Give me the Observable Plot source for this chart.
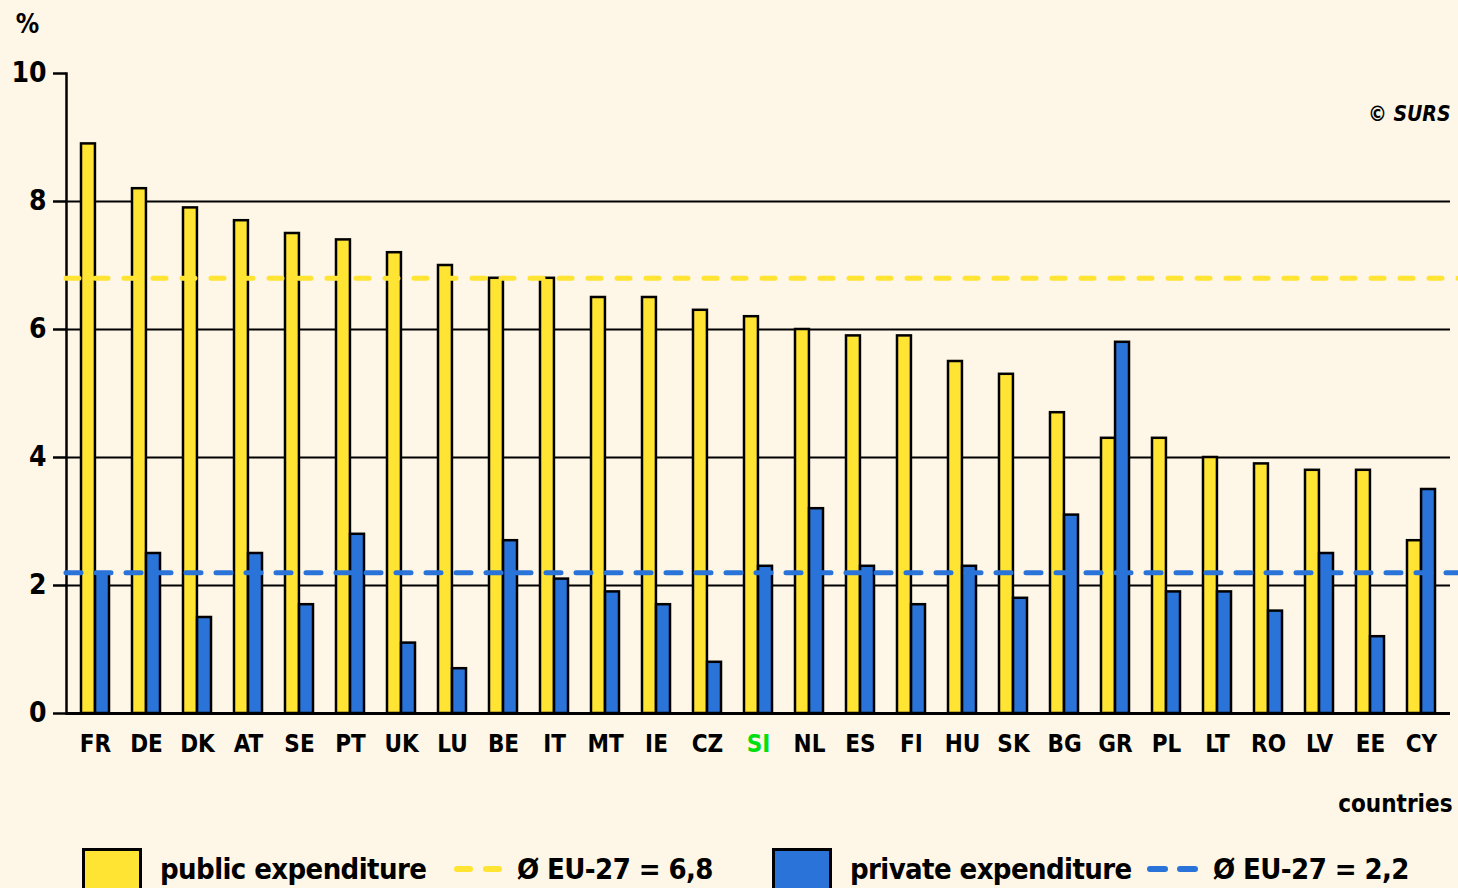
<!DOCTYPE html>
<html>
<head>
<meta charset="utf-8">
<script src="https://cdn.jsdelivr.net/npm/d3@7"></script>
<script src="https://cdn.jsdelivr.net/npm/@observablehq/plot@0.6"></script>
<style>
  html, body { margin: 0; padding: 0; background: #fef6e6; }
  body { width: 1458px; height: 888px; overflow: hidden; font-family: "DejaVu Sans Condensed", "DejaVu Sans", sans-serif; }
  #chart svg { display: block; }
  .legend { position: relative; height: 53px; overflow: hidden; }
  .legend .sw { position: absolute; top: 13px; width: 60px; height: 48px; box-sizing: border-box; border: 3px solid #000; }
  .legend .tx { position: absolute; top: 19px; font-size: 29px; font-weight: bold; line-height: 30px; color: #000; white-space: nowrap; letter-spacing: -0.6px; }
  .legend svg { position: absolute; top: 27px; }
</style>
</head>
<body>
<div id="chart"></div>
<div class="legend" id="legend"></div>
<script>
const countries = ["FR","DE","DK","AT","SE","PT","UK","LU","BE","IT","MT","IE","CZ","SI","NL","ES","FI","HU","SK","BG","GR","PL","LT","RO","LV","EE","CY"];
const publicExp = [8.9,8.2,7.9,7.7,7.5,7.4,7.2,7.0,6.8,6.8,6.5,6.5,6.3,6.2,6.0,5.9,5.9,5.5,5.3,4.7,4.3,4.3,4.0,3.9,3.8,3.8,2.7];
const privateExp = [2.2,2.5,1.5,2.5,1.7,2.8,1.1,0.7,2.7,2.1,1.9,1.7,0.8,2.3,3.2,2.3,1.7,2.3,1.8,3.1,5.8,1.9,1.9,1.6,2.5,1.2,3.5];
const yTicks = [0,2,4,6,8,10];
const gridValues = [2,4,6,8];
const avgPublic = 6.8;
const avgPrivate = 2.2;
const highlight = "SI";
const legendItems = [
  {label: "public expenditure", avgLabel: "Ø EU-27 = 6,8", color: "#ffe433"},
  {label: "private expenditure", avgLabel: "Ø EU-27 = 2,2", color: "#2a74d9"}
];

const YELLOW = "#ffe433", BLUE = "#2a74d9";
const rows = countries.map((c, i) => ({country: c, pub: publicExp[i], priv: privateExp[i]}));

const width = 1458, height = 835;
const marginLeft = 66, marginRight = 8, marginTop = 73, marginBottom = 122;
const pIn = 0.45, pOut = 0.26;
const step = (width - marginLeft - marginRight) / (countries.length - pIn + 2 * pOut);
const half = step * (1 - pIn) / 2;

const font = {fontFamily: "DejaVu Sans Condensed, DejaVu Sans, sans-serif", fontWeight: "bold"};

const chart = Plot.plot({
  width, height, marginLeft, marginRight, marginTop, marginBottom,
  style: {background: "transparent", fontFamily: font.fontFamily},
  x: {domain: countries, paddingInner: pIn, paddingOuter: pOut, axis: null},
  y: {domain: [0, 10], axis: null},
  marks: [
    Plot.ruleY(gridValues, {stroke: "#000", strokeWidth: 2}),
    Plot.barY(rows, {x: "country", y: "pub", fill: YELLOW, stroke: "#000", strokeWidth: 2.5, insetRight: half}),
    Plot.barY(rows, {x: "country", y: "priv", fill: BLUE, stroke: "#000", strokeWidth: 2.5, insetLeft: half}),
    Plot.ruleY([0], {stroke: "#000", strokeWidth: 3}),
    Plot.frame({anchor: "left", stroke: "#000", strokeWidth: 2.5}),
    Plot.axisY({ticks: yTicks, tickSize: 13, tickPadding: 7, tickFormat: d => String(d), fontSize: 28, ...font, strokeWidth: 2.5, label: null}),
    Plot.ruleY([avgPublic], {stroke: YELLOW, strokeWidth: 5, strokeDasharray: "13,16", strokeLinecap: "round", insetRight: -10}),
    Plot.ruleY([avgPrivate], {stroke: BLUE, strokeWidth: 5, strokeDasharray: "15,15", strokeLinecap: "round", insetRight: -10}),
    Plot.text(countries.filter(c => c !== highlight), {x: d => d, text: d => d, frameAnchor: "bottom", dy: 38, fontSize: 24, ...font, fill: "#000"}),
    Plot.text([highlight], {x: d => d, text: d => d, frameAnchor: "bottom", dy: 38, fontSize: 24, ...font, fill: "#00e010"}),
    Plot.text(["%"], {text: d => d, frameAnchor: "top-left", dx: -39, dy: -59, fontSize: 26, ...font, textAnchor: "middle", fill: "#000"}),
    Plot.text(["© SURS"], {text: d => d, frameAnchor: "top-right", dy: 33, fontSize: 21, ...font, fontStyle: "italic", textAnchor: "end", fill: "#000"}),
    Plot.text(["countries"], {text: d => d, frameAnchor: "bottom-right", dx: 2, dy: 98, fontSize: 24, ...font, textAnchor: "end", fill: "#000"})
  ]
});
document.getElementById("chart").appendChild(chart);

// legend
const lg = document.getElementById("legend");
const pos = [
  {sw: 82, tx: 160, dash: 452, avg: 517, dash2: "13,16"},
  {sw: 772, tx: 850, dash: 1145, avg: 1213, dash2: "15,15"}
];
legendItems.forEach((it, i) => {
  const p = pos[i];
  const sw = document.createElement("div"); sw.className = "sw"; sw.style.left = p.sw + "px"; sw.style.background = it.color; lg.appendChild(sw);
  const t = document.createElement("div"); t.className = "tx"; t.style.left = p.tx + "px"; t.textContent = it.label; lg.appendChild(t);
  const s = d3.create("svg").attr("width", 60).attr("height", 14).style("left", p.dash + "px");
  s.append("line").attr("x1", 5).attr("x2", 55).attr("y1", 7).attr("y2", 7).attr("stroke", it.color).attr("stroke-width", 6).attr("stroke-linecap", "round").attr("stroke-dasharray", p.dash2);
  lg.appendChild(s.node());
  const a = document.createElement("div"); a.className = "tx"; a.style.left = p.avg + "px"; a.textContent = it.avgLabel; lg.appendChild(a);
});
</script>
</body>
</html>
